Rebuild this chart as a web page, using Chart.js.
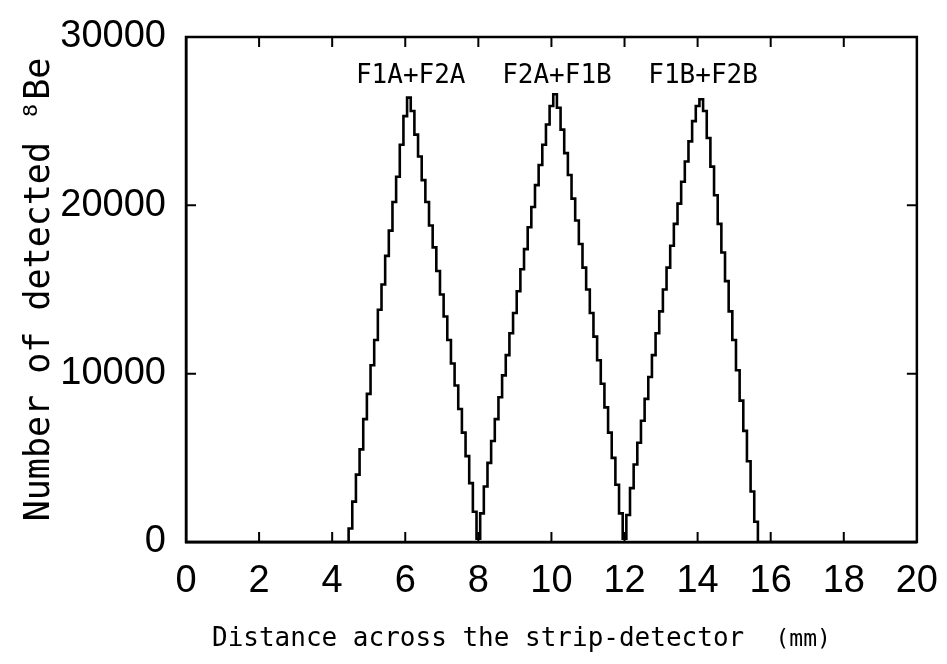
<!DOCTYPE html>
<html>
<head>
<meta charset="utf-8">
<script src="https://cdn.jsdelivr.net/npm/chart.js@4.4.1/dist/chart.umd.min.js"></script>
<style>
  html, body { margin: 0; background: #fff; }
  #wrap { width: 947px; height: 664px; }
</style>
</head>
<body>
<div id="wrap"><canvas id="c" width="947" height="664"></canvas></div>
<script>
// histogram bins of 0.1 mm, first bin starts at 4.45 mm
const binStart = 4.45;
const binWidth = 0.1;

// counts per bin (one array per peak)
const peakA = [800, 2400, 4000, 5500, 7300, 8800, 10500, 12000, 13800, 15300, 17000, 18500, 20200, 21700, 23600, 25300, 26400,
  25600, 24200, 22900, 21500, 20200, 18800, 17500, 16100, 14700, 13400, 12000, 10600, 9300, 7900, 6500, 5100, 3500, 1800, 200];
const peakB = [1700, 3300, 4700, 6000, 7300, 8600, 9900, 11100, 12400, 13600, 14900, 16200, 17400, 18700, 19900, 21200, 22400, 23600, 24800, 25900, 26600,
  25800, 24500, 23100, 21800, 20400, 19100, 17700, 16300, 15000, 13600, 12200, 10800, 9400, 8000, 6500, 5000, 3400, 1700, 200];
const peakC = [1600, 3200, 4600, 5900, 7200, 8500, 9800, 11100, 12400, 13700, 15000, 16300, 17600, 18900, 20100, 21400, 22600, 23800, 25000, 25900, 26300,
  25600, 24000, 22300, 20600, 18900, 17200, 15500, 13700, 12000, 10200, 8400, 6600, 4800, 3000, 1200];

const xTicks = [0, 2, 4, 6, 8, 10, 12, 14, 16, 18, 20];
const yTicks = [0, 10000, 20000, 30000];

const peakNames = ["F1A+F2A", "F2A+F1B", "F1B+F2B"];
const peakNameX = [6.15, 10.15, 14.15];
const peakNameY = [27650, 27650, 27650];

const counts = peakA.concat(peakB, peakC);
const points = [{ x: 0, y: 0 }];
counts.forEach((v, i) => points.push({ x: binStart + i * binWidth, y: v }));
points.push({ x: binStart + counts.length * binWidth, y: 0 });
points.push({ x: 20, y: 0 });

const mono = "'DejaVu Sans Mono', monospace";
const sans = "'Liberation Sans', Arial, sans-serif";

const framePlugin = {
  id: "frame",
  afterDatasetsDraw(chart) {
    const { ctx, chartArea: a, scales } = chart;
    ctx.save();
    ctx.strokeStyle = "#000";
    ctx.lineWidth = 2.5;
    ctx.strokeRect(a.left, a.top, a.right - a.left, a.bottom - a.top);
    // inward ticks on all four sides
    ctx.lineWidth = 2;
    ctx.beginPath();
    scales.x.ticks.forEach(t => {
      if (t.value <= scales.x.min || t.value >= scales.x.max) return;
      const px = scales.x.getPixelForValue(t.value);
      ctx.moveTo(px, a.bottom); ctx.lineTo(px, a.bottom - 10);
      ctx.moveTo(px, a.top); ctx.lineTo(px, a.top + 10);
    });
    scales.y.ticks.forEach(t => {
      if (t.value <= scales.y.min || t.value >= scales.y.max) return;
      const py = scales.y.getPixelForValue(t.value);
      ctx.moveTo(a.left, py); ctx.lineTo(a.left + 10, py);
      ctx.moveTo(a.right, py); ctx.lineTo(a.right - 10, py);
    });
    ctx.stroke();

    // peak names
    ctx.fillStyle = "#000";
    ctx.font = "26px " + mono;
    ctx.textAlign = "center";
    ctx.textBaseline = "middle";
    peakNames.forEach((name, i) => {
      ctx.fillText(name, scales.x.getPixelForValue(peakNameX[i]), scales.y.getPixelForValue(peakNameY[i]));
    });

    // x axis title, unit in a smaller size
    ctx.textAlign = "left";
    ctx.textBaseline = "alphabetic";
    const main = "Distance across the strip-detector  ";
    ctx.font = "26px " + mono;
    const w = ctx.measureText(main).width;
    ctx.font = "23px " + mono;
    const wu = ctx.measureText("(mm)").width;
    const x0 = (a.left + a.right) / 2 - 30 - (w + wu) / 2;
    ctx.font = "26px " + mono;
    ctx.fillText(main, x0, 646);
    ctx.font = "23px " + mono;
    ctx.fillText("(mm)", x0 + w, 646);
    ctx.restore();
  }
};

new Chart(document.getElementById("c"), {
  type: "line",
  data: {
    datasets: [{
      data: points,
      stepped: "before",
      borderColor: "#000",
      borderWidth: 2.6,
      pointRadius: 0,
      fill: false,
      tension: 0
    }]
  },
  options: {
    responsive: false,
    animation: false,
    devicePixelRatio: 1,
    layout: { padding: { left: 0, right: 28, top: 37, bottom: 0 } },
    plugins: { legend: { display: false }, tooltip: { enabled: false } },
    scales: {
      x: {
        type: "linear",
        min: 0,
        max: 20,
        afterBuildTicks: s => { s.ticks = xTicks.map(v => ({ value: v })); },
        afterFit: s => { s.height = 122; },
        grid: { display: false },
        border: { display: true, color: "#000", width: 2.5 },
        ticks: { color: "#000", font: { family: sans, size: 38 }, padding: 9, maxRotation: 0, autoSkip: false }
      },
      y: {
        min: 0,
        max: 30000,
        afterBuildTicks: s => { s.ticks = yTicks.map(v => ({ value: v })); },
        afterFit: s => { s.width = 186; },
        grid: { display: false },
        border: { display: true, color: "#000", width: 2.5 },
        ticks: { color: "#000", font: { family: sans, size: 38 }, padding: 12, callback: v => String(v) },
        title: {
          display: true,
          text: "Number of detected \u2078Be",
          color: "#000",
          font: { family: mono, size: 35 },
          padding: { top: 19, bottom: 19 }
        }
      }
    }
  },
  plugins: [framePlugin]
});
</script>
</body>
</html>
